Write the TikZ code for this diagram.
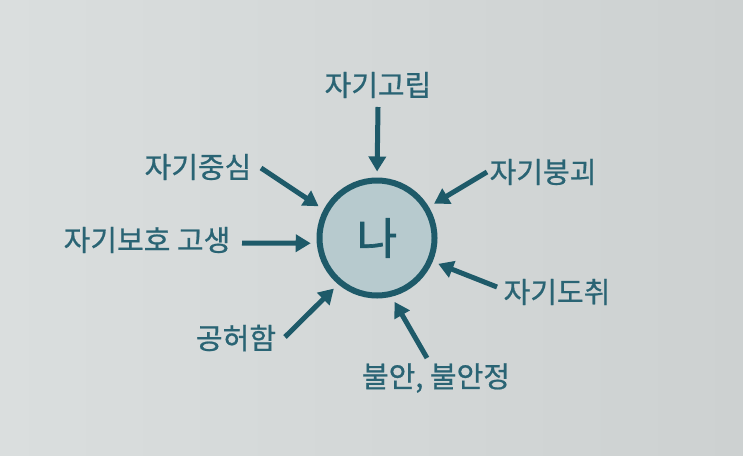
\documentclass[tikz,border=0pt]{standalone}
\usepackage{fontspec}
\newfontfamily\kr[FakeBold=0.7]{Noto Sans CJK KR}
\newfontfamily\krbig[FakeBold=1.5]{Noto Sans CJK KR}
\usetikzlibrary{arrows.meta}
\definecolor{ink}{HTML}{1E5A69}
\definecolor{txt}{HTML}{2A6474}
\definecolor{fillc}{HTML}{B7CACE}
\definecolor{bgl}{HTML}{DADEDE}
\definecolor{bgr}{HTML}{CDD1D1}
\begin{document}
\begin{tikzpicture}[x=1pt,y=-1pt,
  lbl/.style={font=\kr\fontsize{29}{29}\selectfont, text=txt, inner sep=0pt},
  arr/.style={draw=ink, line width=5pt, -{Triangle[length=15pt,width=17pt]}, shorten >=6pt},
]
\shade[left color=bgl, right color=bgr] (0,0) rectangle (743,455);
\useasboundingbox (0,0) rectangle (743,455);
\node[circle, draw=ink, fill=fillc, line width=6pt, minimum size=115pt, inner sep=0pt, outer sep=3pt,
      font=\krbig\fontsize{44}{44}\selectfont, text=ink] (me) at (377,238) {나};
\node[lbl] (t1) at (378,85) {자기고립};
\node[lbl] (t2) at (198,167) {자기중심};
\node[lbl] (t3) at (147,240) {자기보호 고생};
\node[lbl] (t4) at (236,338) {공허함};
\node[lbl] (t5) at (543,172) {자기붕괴};
\node[lbl] (t6) at (557,292) {자기도취};
\node[lbl] (t7) at (436,378) {불안, 불안정};
\coordinate (s1) at (378,107);
\coordinate (s2) at (261,168);
\coordinate (s3) at (242,243);
\coordinate (s4) at (285,337);
\coordinate (s5) at (487,172);
\coordinate (s6) at (497,287);
\coordinate (s7) at (427,358);
\draw[arr] (s1) -- (me.90);
\draw[arr] (s2) -- (me.152);
\draw[arr] (s3) -- (me.185);
\draw[arr] (s4) -- (me.230);
\draw[arr] (s5) -- (me.31);
\draw[arr] (s6) -- (me.337);
\draw[arr] (s7) -- (me.284);
\end{tikzpicture}
\end{document}
